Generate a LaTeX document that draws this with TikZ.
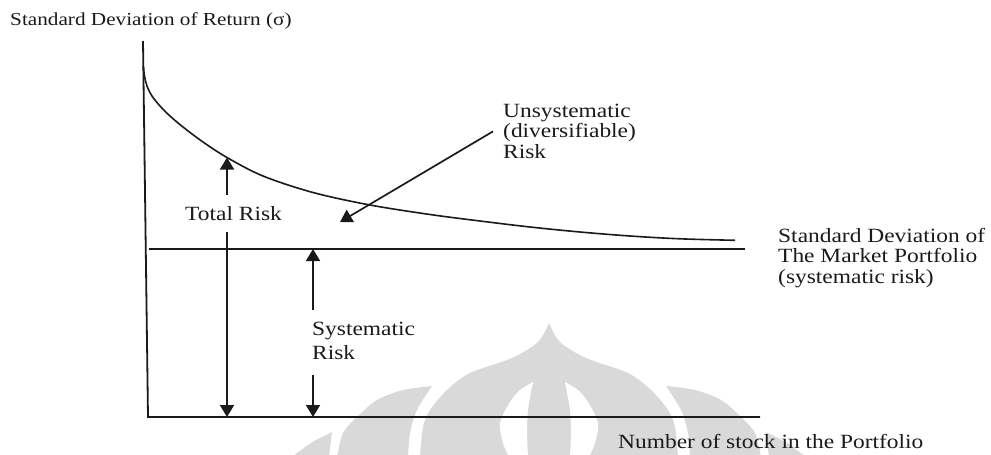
\documentclass[tikz,border=0pt]{standalone}
\usepackage{fontspec}
\setmainfont[FakeStretch=1.16]{Liberation Serif}
\usetikzlibrary{arrows.meta}
\definecolor{ink}{HTML}{1A1A1A}
\definecolor{wm}{HTML}{D9D9D9}

\begin{document}
\begin{tikzpicture}[x=1pt,y=-1pt,
  axisline/.style={line width=1.8pt, draw=ink},
  riskcurve/.style={line width=1.6pt, draw=ink},
  riskarrow/.style={line width=1.7pt, draw=ink, -{Triangle[length=12pt,width=14pt]}},
  lbl/.style={font=\fontsize{20.2}{20.5}\selectfont, text=ink, inner sep=0pt},
  toplbl/.style={font=\fontsize{18.3}{20}\selectfont, text=ink, inner sep=0pt},
  blot/.style={fill=wm, draw=none},
  hole/.style={fill=white, draw=none}]
\useasboundingbox (0,0) rectangle (991,455);

% ---- faint emblem in the background ----
% central dome
\fill[blot] plot[smooth] coordinates {(420,457) (423,427) (430,410) (447,390) (470,373) (512,358) (538,342) (549,323)}
  -- plot[smooth] coordinates {(549,323) (560,342) (586,358) (628,373) (651,390) (668,410) (675,427) (678,457)} -- cycle;
% openings inside the dome
\fill[hole] plot[smooth] coordinates {(533,382) (520,390) (510,402) (500,423) (503,443) (509,457)}
  -- plot[smooth] coordinates {(528,457) (527,432) (528,410) (533,382)} -- cycle;
\fill[hole] plot[smooth] coordinates {(565,382) (578,390) (588,402) (598,423) (595,443) (589,457)}
  -- plot[smooth] coordinates {(570,457) (571,432) (570,410) (565,382)} -- cycle;
% side crescents
\fill[blot] plot[smooth] coordinates {(432,386) (417,410) (410,433) (408,457)}
  -- plot[smooth] coordinates {(337,457) (343,433) (357,417) (377,400) (403,390) (432,386)} -- cycle;
\fill[blot] plot[smooth] coordinates {(666,386) (681,410) (688,433) (690,457)}
  -- plot[smooth] coordinates {(761,457) (755,433) (741,417) (721,400) (695,390) (666,386)} -- cycle;
% outer crescent tips
\fill[blot] plot[smooth] coordinates {(332,432) (320,438) (308,445) (292,457)} -- (329,457) -- cycle;
\fill[blot] plot[smooth] coordinates {(766,432) (778,438) (790,445) (806,457)} -- (769,457) -- cycle;

% ---- axes ----
\coordinate (yTop) at (143,41);
\coordinate (origin) at (148,417);
\coordinate (xEnd) at (760,417);
\draw[axisline] (yTop) -- (origin) -- (xEnd);

% market portfolio level
\coordinate (mktL) at (149,249);
\coordinate (mktR) at (745,249);
\draw[axisline] (mktL) -- (mktR);

% total risk against number of stocks
\draw[riskcurve] plot[smooth, tension=0.55] coordinates {(143.3,66) (144.5,76) (147,86) (152,96) (160,106) (170,116)
  (183,127) (203,142) (227,157.5) (263,176) (313,192.5) (370,205) (430,214.5) (480,221) (530,227) (580,232)
  (630,236) (680,238.8) (735,240.3)};

% ---- labels ----
\node[toplbl, anchor=base west] (ylab) at (10,25) {Standard Deviation of Return (σ)};
\node[lbl, anchor=base west] (xlab) at (618,448) {Number of stock in the Portfolio};
\node[lbl, anchor=base west] (mkt) at (778,242)
  {\begin{tabular}[t]{@{}l@{}}Standard Deviation of\\The Market Portfolio\\(systematic risk)\end{tabular}};
\node[lbl, anchor=base west] (unsys) at (503,117)
  {\begin{tabular}[t]{@{}l@{}}Unsystematic\\(diversifiable)\\Risk\end{tabular}};
\node[lbl, anchor=base west, inner ysep=12pt, text height=13pt, text depth=0pt] (tot) at (185,220) {Total Risk};
\node[lbl, anchor=base west, inner ysep=12pt, text height=13pt, text depth=28pt, font=\fontsize{20.2}{24}\selectfont] (sys) at (312,335)
  {\begin{tabular}[t]{@{}l@{}}Systematic\\Risk\end{tabular}};

% ---- arrows ----
\coordinate (totTop) at (227,157.5);
\coordinate (totBot) at (227,417);
\draw[riskarrow] (tot.north -| totTop) -- (totTop);
\draw[riskarrow] (tot.south -| totBot) -- (totBot);

\coordinate (sysTop) at (313,249);
\coordinate (sysBot) at (313,417);
\draw[riskarrow] (sys.north -| sysTop) -- (sysTop);
\draw[riskarrow] (sys.south -| sysBot) -- (sysBot);

\coordinate (unsysTip) at (340,222);
\draw[riskarrow] ([shift={(-10pt,2pt)}]unsys.west) -- (unsysTip);
\end{tikzpicture}
\end{document}
